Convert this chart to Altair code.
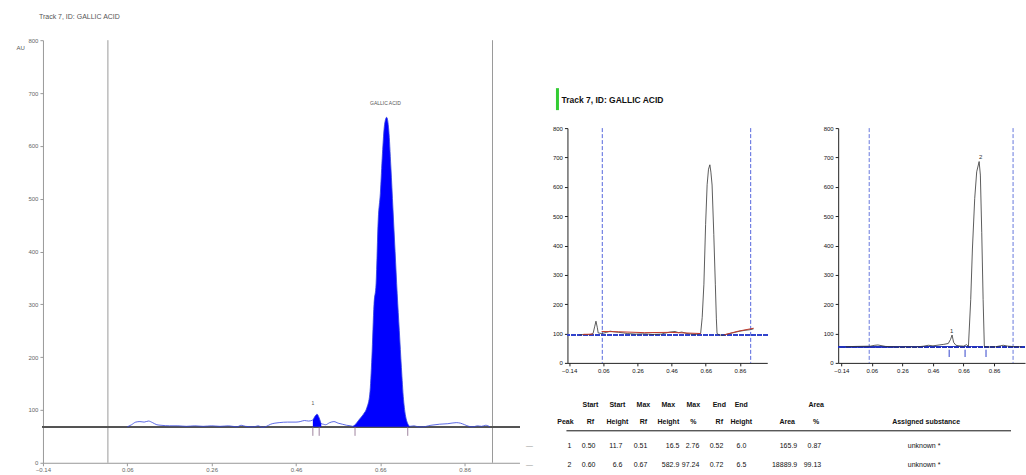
import altair as alt
import pandas as pd

FONT = "Liberation Sans, Arial, sans-serif"

TITLE = "Track 7, ID: GALLIC ACID"
PEAK_NAME = "GALLIC ACID"
RF_TICKS = [-0.14, 0.06, 0.26, 0.46, 0.66, 0.86]
AU_TICKS = [0, 100, 200, 300, 400, 500, 600, 700, 800]

# ---------------- Left: evaluated track (AU vs Rf) ----------------
L_RF = [0.06, 0.07, 0.08, 0.09, 0.10, 0.11, 0.12, 0.13, 0.14, 0.16,
        0.18, 0.20, 0.22, 0.24, 0.26, 0.28, 0.30, 0.32, 0.33, 0.34,
        0.36, 0.37, 0.38, 0.39, 0.40, 0.42, 0.44, 0.46, 0.47, 0.48,
        0.49, 0.50, 0.505, 0.51, 0.515, 0.52, 0.525, 0.53, 0.54, 0.55,
        0.56, 0.57, 0.58, 0.59, 0.595, 0.60, 0.61, 0.62, 0.628, 0.635,
        0.64, 0.645, 0.65, 0.655, 0.66, 0.665, 0.67, 0.675, 0.68, 0.685,
        0.69, 0.695, 0.70, 0.705, 0.71, 0.715, 0.72, 0.725, 0.73, 0.74,
        0.75, 0.76, 0.78, 0.80, 0.82, 0.84, 0.85, 0.86, 0.87, 0.88,
        0.89, 0.90, 0.91, 0.92]
L_AU = [68, 72, 77, 78, 77, 79, 76, 72, 71, 70,
        70, 69, 70, 69, 70, 69, 70, 68, 71, 69,
        68, 70, 67, 69, 73, 76, 77, 77, 78, 80,
        79, 81, 88, 92, 85, 74, 73, 72, 76, 78,
        75, 73, 71, 70, 69, 72, 82, 92, 104, 130,
        200, 300, 340, 460, 510, 585, 640, 654, 630, 560,
        480, 400, 320, 250, 180, 120, 88, 74, 69, 70,
        68, 68, 71, 73, 74, 76, 75, 72, 69, 68,
        70, 69, 71, 68]
L_BASELINE = 68
L_FRONT = [0.014, 0.926]
L_PEAKS = [(0.50, 0.52), (0.595, 0.73)]
L_MARKS = [0.50, 0.515, 0.60, 0.725]
L_MARK_LOW = 51
L_LABEL_RF = [0.50, 0.672]
L_LABEL_AU = [108, 675]
L_LABELS = ["1", PEAK_NAME]

# ---------------- Middle: track with baseline ----------------
M_RF = [-0.08, -0.05, -0.02, 0.00, 0.01, 0.017, 0.025, 0.03, 0.05, 0.08,
        0.10, 0.12, 0.15, 0.18, 0.20, 0.25, 0.30, 0.35, 0.40, 0.42,
        0.45, 0.48, 0.50, 0.52, 0.55, 0.58, 0.60, 0.62, 0.63, 0.639,
        0.649, 0.659, 0.668, 0.676, 0.684, 0.69, 0.697, 0.707, 0.716, 0.722,
        0.726, 0.74, 0.76, 0.78, 0.80, 0.83, 0.86, 0.89, 0.92, 0.94]
M_AU = [95, 97, 96, 100, 125, 142, 120, 102, 100, 104,
        108, 106, 104, 102, 100, 98, 99, 97, 98, 101,
        105, 107, 103, 105, 100, 98, 97, 99, 100, 155,
        268, 471, 607, 660, 675, 650, 606, 437, 268, 150,
        100, 95, 94, 97, 100, 104, 108, 111, 113, 116]
M_RED_RF = [-0.06, 0.0, 0.05, 0.15, 0.30, 0.45, 0.63, 0.77, 0.85, 0.94]
M_RED_AU = [97, 98, 107, 106, 103, 104, 100, 96, 108, 118]
M_RED_SEG = ["a", "a", "b", "b", "b", "b", "b", "c", "c", "c"]
M_BASELINE = 95
M_FRONT = [0.054, 0.923]

# ---------------- Right: track with peak marks ----------------
R_RF = [-0.11, -0.05, 0.05, 0.08, 0.10, 0.12, 0.15, 0.20, 0.25, 0.30,
        0.35, 0.40, 0.43, 0.46, 0.50, 0.53, 0.56, 0.575, 0.585, 0.595,
        0.61, 0.63, 0.66, 0.68, 0.692, 0.707, 0.718, 0.733, 0.746, 0.762,
        0.770, 0.779, 0.788, 0.796, 0.82, 0.87, 0.90, 0.92, 0.95, 1.00,
        1.04]
R_AU = [55, 56, 57, 60, 61, 59, 56, 55, 54, 55,
        54, 57, 60, 58, 61, 63, 66, 80, 95, 70,
        60, 58, 57, 62, 56, 216, 388, 560, 651, 686,
        640, 445, 216, 56, 54, 55, 58, 60, 57, 55,
        55]
R_BASELINE = 55
R_FRONT = [0.043, 0.984]
R_MARKS = [0.566, 0.67, 0.807]
R_LABELS = ["1", "2"]
R_LABEL_RF = [0.583, 0.772]
R_LABEL_AU = [100, 690]

# ---------------- Table ----------------
T_HEAD1 = ["", "Start", "Start", "Max", "Max", "Max", "End", "End", "", "Area", ""]
T_HEAD2 = ["Peak", "Rf", "Height", "Rf", "Height", "%", "Rf", "Height", "Area", "%",
           "Assigned substance"]
T_ROWS = [
    ["1", "0.50", "11.7", "0.51", "16.5", "2.76", "0.52", "6.0", "165.9", "0.87", "unknown *"],
    ["2", "0.60", "6.6", "0.67", "582.9", "97.24", "0.72", "6.5", "18889.9", "99.13", "unknown *"],
]
# layout of the table (pixel offsets inside the table view)
T_HEAD_X = [-2, 23, 50, 76, 101, 126, 152, 174, 220, 249, 359]
T_VAL_X = [4, 28, 55, 80, 112, 132, 156, 179, 230, 254, 357]
T_ROW_Y = [18, 35, 59, 78]
T_LINE_Y = 44
T_LINE_X = [-1, 444]
T_DASH_X = -38
TW, TH = 458, 88

# ================= build =================
def rf_axis(size, color, dom, weight="normal", pad=2):
    return alt.Axis(values=RF_TICKS, tickCount=50, format=".2f", labelFontSize=size,
                    labelColor=color, labelFont=FONT, labelFontWeight=weight, domainColor=dom,
                    tickColor=dom, tickSize=3, grid=False, title=None, labelPadding=pad,
                    labelFlush=False, labelOverlap=False)


def au_axis(size, color, dom, weight="normal", title=None):
    kw = dict(values=AU_TICKS, tickCount=50, labelFontSize=size, labelColor=color,
              labelFont=FONT, labelFontWeight=weight, domainColor=dom, tickColor=dom,
              tickSize=3, grid=False, labelPadding=2, labelOverlap=False)
    if title:
        kw.update(title=title, titleAngle=0, titleX=-27, titleY=10, titleAlign="left",
                  titleFontSize=6, titleFontWeight="normal", titleColor="#555", titleFont=FONT)
    else:
        kw.update(title=None)
    return alt.Axis(**kw)


# ----- left -----
ldf = pd.DataFrame({"rf": L_RF, "au": L_AU})
xL = alt.Scale(domain=[-0.14, 0.99], nice=False, zero=False)
yL = alt.Scale(domain=[0, 800], nice=False)

l_front = alt.Chart(pd.DataFrame({"rf": L_FRONT})).mark_rule(color="#9a9a9a", strokeWidth=1).encode(
    x=alt.X("rf:Q", scale=xL, axis=rf_axis(6, "#666", "#999", pad=1)))
l_base = alt.Chart(ldf).mark_rule(color="#555", strokeWidth=1).encode(
    y=alt.datum(L_BASELINE, scale=yL))
fills = []
for lo, hi in L_PEAKS:
    sub = ldf[(ldf.rf >= lo) & (ldf.rf <= hi)]
    fills.append(alt.Chart(sub).mark_area(color="#0000ff", opacity=1, interpolate="monotone").encode(
        x=alt.X("rf:Q", scale=xL), y=alt.Y("au:Q", scale=yL), y2=alt.datum(L_BASELINE)))
l_line = alt.Chart(ldf).mark_line(color="#3344dd", strokeWidth=0.8, interpolate="monotone").encode(
    x=alt.X("rf:Q", scale=xL),
    y=alt.Y("au:Q", scale=yL, axis=au_axis(6, "#666", "#999", title="AU")))
l_marks = alt.Chart(pd.DataFrame({"rf": L_MARKS})).mark_rule(color="#886688", strokeWidth=0.8).encode(
    x=alt.X("rf:Q", scale=xL), y=alt.datum(L_MARK_LOW), y2=alt.datum(L_BASELINE))
l_text = alt.Chart(pd.DataFrame({"rf": L_LABEL_RF, "au": L_LABEL_AU, "t": L_LABELS})).mark_text(
    fontSize=5, color="#555", font=FONT, baseline="bottom").encode(
    x=alt.X("rf:Q", scale=xL), y=alt.Y("au:Q", scale=yL), text="t:N")

left = alt.layer(l_front, l_base, *fills, l_line, l_marks, l_text).properties(
    width=477, height=423,
    title=alt.TitleParams(TITLE, anchor="start", frame="group", fontSize=7, fontWeight="normal",
                          color="#555", font=FONT, offset=17, dx=-4))

# ----- middle -----
mdf = pd.DataFrame({"rf": M_RF, "au": M_AU})
xM = alt.Scale(domain=[-0.15, 1.02], nice=False, zero=False)
yM = alt.Scale(domain=[0, 800], nice=False)
m_front = alt.Chart(pd.DataFrame({"rf": M_FRONT})).mark_rule(
    color="#5566dd", strokeWidth=1, strokeDash=[4, 2]).encode(
    x=alt.X("rf:Q", scale=xM, axis=rf_axis(6, "#111", "#222")))
m_base = alt.Chart(mdf).mark_rule(color="#3344cc", strokeWidth=1.2, strokeDash=[4, 2]).encode(
    y=alt.datum(M_BASELINE, scale=yM))
m_line = alt.Chart(mdf).mark_line(color="#333", strokeWidth=0.8).encode(
    x=alt.X("rf:Q", scale=xM), y=alt.Y("au:Q", scale=yM, axis=au_axis(6, "#111", "#222")))
m_red = alt.Chart(pd.DataFrame({"rf": M_RED_RF, "au": M_RED_AU, "s": M_RED_SEG})).mark_line(
    color="#c0392b", strokeWidth=1).encode(
    x=alt.X("rf:Q", scale=xM), y=alt.Y("au:Q", scale=yM), detail="s:N")
mid = alt.layer(m_front, m_base, m_line, m_red).properties(width=200, height=235)

# ----- right -----
rdf = pd.DataFrame({"rf": R_RF, "au": R_AU})
xR = alt.Scale(domain=[-0.16, 1.062], nice=False, zero=False)
yR = alt.Scale(domain=[0, 800], nice=False)
r_front = alt.Chart(pd.DataFrame({"rf": R_FRONT})).mark_rule(
    color="#6677dd", strokeWidth=1, strokeDash=[4, 2]).encode(
    x=alt.X("rf:Q", scale=xR, axis=rf_axis(6, "#111", "#222")))
r_base = alt.Chart(rdf).mark_rule(color="#2233bb", strokeWidth=1.2, strokeDash=[5, 1]).encode(
    y=alt.datum(R_BASELINE, scale=yR))
r_line = alt.Chart(rdf).mark_line(color="#333", strokeWidth=0.8).encode(
    x=alt.X("rf:Q", scale=xR), y=alt.Y("au:Q", scale=yR, axis=au_axis(6, "#111", "#222")))
r_marks = alt.Chart(pd.DataFrame({"rf": R_MARKS})).mark_rule(color="#3344cc", strokeWidth=1).encode(
    x=alt.X("rf:Q", scale=xR), y=alt.datum(20), y2=alt.datum(45))
r_text = alt.Chart(pd.DataFrame({"rf": R_LABEL_RF, "au": R_LABEL_AU, "t": R_LABELS})).mark_text(
    fontSize=6, color="#333", font=FONT, baseline="bottom").encode(
    x=alt.X("rf:Q", scale=xR), y=alt.Y("au:Q", scale=yR), text="t:N")
right = alt.layer(r_front, r_base, r_line, r_marks, r_text).properties(width=187, height=235)

# ----- title view -----
tdf = pd.DataFrame({"t": [TITLE]})
t_bar = alt.Chart(tdf).mark_rule(color="#33cc33", strokeWidth=3).encode(
    x=alt.value(-10), y=alt.value(48), y2=alt.value(70))
t_txt = alt.Chart(tdf).mark_text(align="left", baseline="middle", font=FONT, fontSize=8.5,
                                 fontWeight="bold", color="#111").encode(
    text="t:N", x=alt.value(-6), y=alt.value(60))
title_view = alt.layer(t_bar, t_txt).properties(width=200, height=70)

# ----- table -----
recs = []
for i, (h1, h2) in enumerate(zip(T_HEAD1, T_HEAD2)):
    if h1:
        recs.append({"t": h1, "x": T_HEAD_X[i], "y": T_ROW_Y[0], "k": "head"})
    recs.append({"t": h2, "x": T_HEAD_X[i], "y": T_ROW_Y[1], "k": "head"})
for r, row in enumerate(T_ROWS):
    for i, v in enumerate(row):
        recs.append({"t": v, "x": T_VAL_X[i], "y": T_ROW_Y[2 + r],
                     "k": "center" if i == len(row) - 1 else "val"})
    recs.append({"t": "\u2014", "x": T_DASH_X, "y": T_ROW_Y[2 + r], "k": "dash"})
tab = pd.DataFrame(recs)
xT = alt.Scale(domain=[0, TW], nice=False, zero=False)
yT = alt.Scale(domain=[0, TH], nice=False, reverse=True)
enc = dict(x=alt.X("x:Q", scale=xT, axis=None), y=alt.Y("y:Q", scale=yT, axis=None), text="t:N")
t_head = alt.Chart(tab[tab.k == "head"]).mark_text(
    align="center", baseline="middle", font=FONT, fontSize=7, fontWeight="bold", color="#111").encode(**enc)
t_val = alt.Chart(tab[tab.k == "val"]).mark_text(
    align="right", baseline="middle", font=FONT, fontSize=7, color="#111").encode(**enc)
t_cen = alt.Chart(tab[tab.k == "center"]).mark_text(
    align="center", baseline="middle", font=FONT, fontSize=7, color="#111").encode(**enc)
t_dash = alt.Chart(tab[tab.k == "dash"]).mark_text(
    align="center", baseline="middle", font=FONT, fontSize=7, color="#999").encode(**enc)
t_line = alt.Chart(pd.DataFrame({"x": [T_LINE_X[0]], "x2": [T_LINE_X[1]], "y": [T_LINE_Y]})).mark_rule(
    color="#111", strokeWidth=1).encode(
    x=alt.X("x:Q", scale=xT, axis=None), x2="x2:Q", y=alt.Y("y:Q", scale=yT, axis=None))
table = alt.layer(t_line, t_head, t_val, t_cen, t_dash).properties(width=TW, height=TH)

mid_right = alt.hconcat(mid, right, spacing=71, bounds="flush")
right_block = alt.vconcat(title_view, mid_right, table, spacing=13, bounds="full")

chart = alt.hconcat(left, right_block, spacing=48, bounds="flush").configure_view(
    stroke=None).configure_axis(labelOverlap=False, labelSeparation=0).properties(
    padding={"left": 16, "top": 13, "right": 0, "bottom": 0}, background="white")

chart.save("out.html", embed_options={"renderer": "svg", "actions": False})
